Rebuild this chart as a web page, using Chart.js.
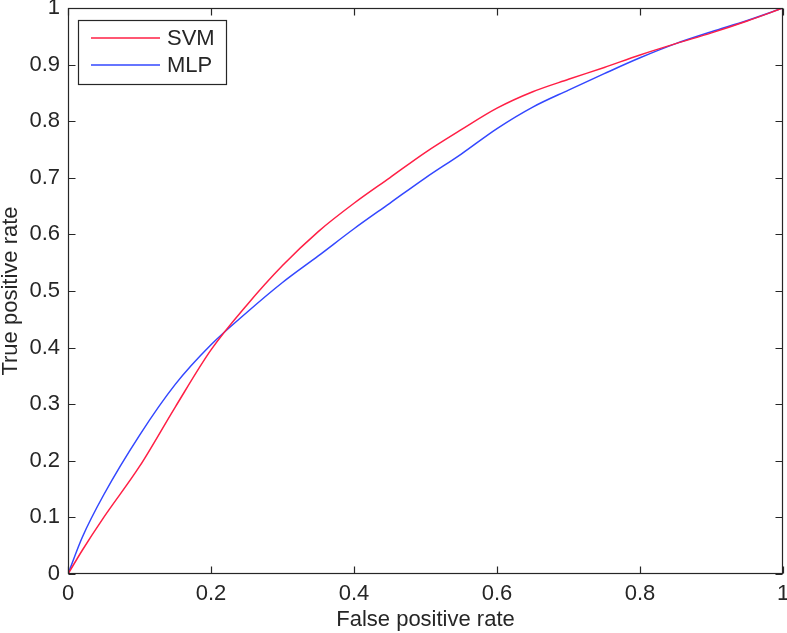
<!DOCTYPE html>
<html>
<head>
<meta charset="utf-8">
<script src="https://cdn.jsdelivr.net/npm/chart.js@4/dist/chart.umd.min.js"></script>
<style>
html,body{margin:0;padding:0;background:#fff;}
#wrap{width:787px;height:633px;position:relative;}
</style>
</head>
<body>
<div id="wrap"><canvas id="c" width="787" height="633"></canvas></div>
<script>
const seriesNames = ['SVM', 'MLP'];
const svmFpr = [0, 0.02, 0.05, 0.1, 0.15, 0.2, 0.25, 0.3, 0.35, 0.4, 0.45, 0.5, 0.55, 0.6, 0.65, 0.7, 0.75, 0.8, 0.85, 0.9, 0.95, 1];
const svmTpr = [0, 0.042, 0.10, 0.19, 0.295, 0.396, 0.475, 0.545, 0.605, 0.655, 0.70, 0.745, 0.785, 0.823, 0.852, 0.874, 0.895, 0.917, 0.937, 0.956, 0.977, 1];
const mlpFpr = [0, 0.02, 0.05, 0.1, 0.15, 0.2, 0.25, 0.3, 0.35, 0.4, 0.45, 0.5, 0.55, 0.6, 0.65, 0.7, 0.75, 0.8, 0.85, 0.9, 0.95, 1];
const mlpTpr = [0, 0.065, 0.14, 0.245, 0.335, 0.405, 0.462, 0.515, 0.562, 0.61, 0.655, 0.70, 0.742, 0.787, 0.825, 0.855, 0.884, 0.912, 0.937, 0.958, 0.978, 1];
const xTicks = [0, 0.2, 0.4, 0.6, 0.8, 1];
const yTicks = [0, 0.1, 0.2, 0.3, 0.4, 0.5, 0.6, 0.7, 0.8, 0.9, 1];
const xTitle = 'False positive rate';
const yTitle = 'True positive rate';

const FONT = '"Liberation Sans", Arial, sans-serif';
const INK = '#262626';
const FS = 22;

const toPts = (xs, ys) => xs.map((x, i) => ({x: x, y: ys[i]}));

const framePlugin = {
  id: 'frame',
  afterDatasetsDraw(chart) {
    const ctx = chart.ctx, a = chart.chartArea;
    const xs = chart.scales.x, ys = chart.scales.y;
    ctx.save();
    ctx.strokeStyle = INK;
    ctx.lineWidth = 1.2;
    const L = Math.round(a.left) + 0.5, R = Math.round(a.right) - 0.5;
    const T = Math.round(a.top) + 0.5, B = Math.round(a.bottom) - 0.5;
    ctx.strokeRect(L, T, R - L, B - T);
    const tl = 7;
    ctx.beginPath();
    xTicks.forEach(v => {
      const px = Math.round(xs.getPixelForValue(v)) + 0.5;
      ctx.moveTo(px, B); ctx.lineTo(px, B - tl);
      ctx.moveTo(px, T); ctx.lineTo(px, T + tl);
    });
    yTicks.forEach(v => {
      const py = Math.round(ys.getPixelForValue(v)) + 0.5;
      ctx.moveTo(L, py); ctx.lineTo(L + tl, py);
      ctx.moveTo(R, py); ctx.lineTo(R - tl, py);
    });
    ctx.stroke();
    // legend box
    const bx = 78.5, by = 20.5, bw = 148, bh = 64;
    ctx.fillStyle = '#fff';
    ctx.fillRect(bx, by, bw, bh);
    ctx.strokeRect(bx, by, bw, bh);
    ctx.font = FS + 'px ' + FONT;
    ctx.textBaseline = 'middle';
    ctx.textAlign = 'left';
    chart.data.datasets.forEach((ds, i) => {
      const ly = 38 + i * 27;
      ctx.strokeStyle = ds.borderColor;
      ctx.lineWidth = 1.5;
      ctx.beginPath();
      ctx.moveTo(91, ly); ctx.lineTo(160, ly);
      ctx.stroke();
      ctx.fillStyle = INK;
      ctx.fillText(ds.label, 167, ly + 1);
    });
    ctx.restore();
  }
};

new Chart(document.getElementById('c'), {
  type: 'line',
  data: {
    datasets: [
      {label: seriesNames[0], data: toPts(svmFpr, svmTpr), borderColor: '#ff1f45', borderWidth: 1.5, pointRadius: 0, fill: false, cubicInterpolationMode: 'monotone'},
      {label: seriesNames[1], data: toPts(mlpFpr, mlpTpr), borderColor: '#3347ff', borderWidth: 1.5, pointRadius: 0, fill: false, cubicInterpolationMode: 'monotone'}
    ]
  },
  options: {
    responsive: false,
    animation: false,
    devicePixelRatio: 1,
    layout: {padding: {left: 0, right: 4, top: 8, bottom: 0}},
    plugins: {legend: {display: false}, tooltip: {enabled: false}},
    scales: {
      x: {
        type: 'linear', min: 0, max: 1,
        afterBuildTicks: s => { s.ticks = xTicks.map(v => ({value: v})); },
        afterFit: s => { s.height = 59; s.paddingLeft = 0; s.paddingRight = 0; },
        grid: {display: false, drawTicks: false},
        border: {display: false},
        ticks: {color: INK, font: {family: FONT, size: FS}, padding: 7, maxRotation: 0, callback: v => String(v)},
        title: {display: true, text: xTitle, color: INK, font: {family: FONT, size: FS}, padding: {top: 0, bottom: 0}}
      },
      y: {
        type: 'linear', min: 0, max: 1,
        afterBuildTicks: s => { s.ticks = yTicks.map(v => ({value: v})); },
        afterFit: s => { s.width = 68; s.paddingTop = 0; s.paddingBottom = 0; },
        grid: {display: false, drawTicks: false},
        border: {display: false},
        ticks: {color: INK, font: {family: FONT, size: FS}, padding: 8, callback: v => String(v)},
        title: {display: true, text: yTitle, color: INK, font: {family: FONT, size: FS}, padding: {top: -2, bottom: 0}}
      }
    }
  },
  plugins: [framePlugin]
});
</script>
</body>
</html>
